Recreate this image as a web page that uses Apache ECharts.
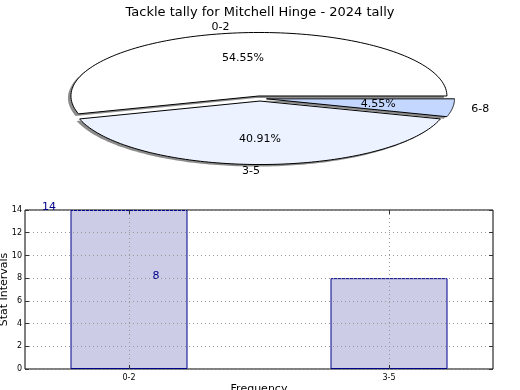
<!DOCTYPE html>
<html><head><meta charset="utf-8">
<script src="https://cdn.jsdelivr.net/npm/echarts@6/dist/echarts.min.js"></script>
<style>html,body{margin:0;padding:0;background:#fff}#c{width:520px;height:390px}</style>
</head><body><div id="c"></div>
<script>
const titleText = 'Tackle tally for Mitchell Hinge - 2024 tally';
const pieLabels = ['0-2', '3-5', '6-8'];
const pieValues = [12, 9, 1];
const barCats = ['0-2', '3-5'];
const barValues = [14, 8];
const yTicks = [0, 2, 4, 6, 8, 10, 12, 14];

const pieColors = ['#ffffff', '#ecf2ff', '#c4d7ff'];
const explode = [0.04, 0.04, 0.035];
const CX = 260, CY = 98.5, RX = 188, RY = 63.5;
const total = pieValues.reduce((a, b) => a + b, 0);
const FONT = '11px "DejaVu Sans"';

function sliceGeom(i) {
  let before = 0;
  for (let k = 0; k < i; k++) before += pieValues[k];
  const a0 = before / total * 2 * Math.PI;
  const a1 = (before + pieValues[i]) / total * 2 * Math.PI;
  const mid = (a0 + a1) / 2;
  const dx = explode[i] * RX * Math.cos(mid);
  const dy = -explode[i] * RY * Math.sin(mid);
  return {a0, a1, mid, cx: CX + dx, cy: CY + dy};
}
function slicePoints(g, ox, oy) {
  const pts = [[g.cx + ox, g.cy + oy]];
  const n = 120;
  for (let s = 0; s <= n; s++) {
    const t = g.a0 + (g.a1 - g.a0) * s / n;
    pts.push([g.cx + ox + RX * Math.cos(t), g.cy + oy - RY * Math.sin(t)]);
  }
  return pts;
}

const chart = echarts.init(document.getElementById('c'), null, {renderer: 'canvas'});
chart.setOption({
  animation: false,
  title: {text: titleText, left: 'center', top: 1,
    textStyle: {fontFamily: 'DejaVu Sans', fontSize: 13, fontWeight: 'normal', color: '#000'}},
  grid: [{left: 25, right: 27, top: 210, bottom: 21, containLabel: false, outerBoundsMode: 'none',
    show: true, borderColor: '#000', borderWidth: 1, backgroundColor: 'transparent'}],
  xAxis: [
    {type: 'value', min: -0.4, max: 1.4, gridIndex: 0, position: 'bottom', z: 5,
      axisLine: {show: false, onZero: false},
      axisTick: {show: true, inside: true, length: 4, customValues: [0, 1], lineStyle: {color: '#333'}},
      axisLabel: {customValues: [0, 1], formatter: v => barCats[Math.round(v)] || '', fontSize: 8, fontFamily: 'DejaVu Sans', color: '#000', margin: 5},
      splitLine: {show: true, lineStyle: {type: [1, 3], color: '#999999', width: 1}},
      name: 'Frequency', nameLocation: 'middle', nameGap: 15, nameMoveOverlap: false,
      nameTextStyle: {fontSize: 11, fontFamily: 'DejaVu Sans', color: '#000'}},
    {type: 'value', min: -0.4, max: 1.4, gridIndex: 0, position: 'top', z: 5,
      axisLine: {show: false, onZero: false},
      axisTick: {show: true, inside: true, length: 4, customValues: [0, 1], lineStyle: {color: '#333'}},
      axisLabel: {show: false}, splitLine: {show: false}}
  ],
  yAxis: [
    {type: 'value', min: 0, max: 14, interval: 2, gridIndex: 0, position: 'left', z: 5,
      axisLine: {show: false, onZero: false},
      axisTick: {show: true, inside: true, length: 4, lineStyle: {color: '#333'}},
      axisLabel: {fontSize: 8, fontFamily: 'DejaVu Sans', color: '#000', margin: 3,
        formatter: v => yTicks.includes(v) ? String(v) : ''},
      splitLine: {show: true, lineStyle: {type: [1, 3], color: '#999999', width: 1}},
      name: 'Stat Intervals', nameLocation: 'middle', nameGap: 15, nameMoveOverlap: false,
      nameTextStyle: {fontSize: 11, fontFamily: 'DejaVu Sans', color: '#000'}},
    {type: 'value', min: 0, max: 14, interval: 2, gridIndex: 0, position: 'right', z: 5,
      axisLine: {show: false, onZero: false},
      axisTick: {show: true, inside: true, length: 4, lineStyle: {color: '#333'}},
      axisLabel: {show: false}, splitLine: {show: false}}
  ],
  series: [
    {type: 'bar', xAxisIndex: 0, yAxisIndex: 0, barWidth: 117,
      itemStyle: {color: '#ccccE6', borderColor: '#00008b', borderWidth: 1},
      data: barValues.map((v, i) => ({
        value: [i, v],
        label: {show: true, position: 'top', offset: i === 0 ? [-80, 8] : [-233, 8],
          formatter: String(v), color: '#00008b', fontSize: 11, fontFamily: 'DejaVu Sans'}
      })),
      z: 2},
    {type: 'custom', coordinateSystem: 'none', z: 1, silent: true,
      data: pieValues.map((v, i) => [v, i]),
      renderItem: function (params, api) {
        const g = sliceGeom(params.dataIndex);
        return {type: 'polygon', shape: {points: slicePoints(g, -3, 2)},
          style: {fill: 'rgba(0,0,0,0.45)', stroke: null}};
      }},
    {type: 'custom', coordinateSystem: 'none', z: 3, silent: true,
      data: pieValues.map((v, i) => [v, i]),
      renderItem: function (params, api) {
        const i = params.dataIndex;
        const g = sliceGeom(i);
        const c = Math.cos(g.mid), s = Math.sin(g.mid);
        const lx = g.cx + 1.1 * RX * c, ly = g.cy - 1.1 * RY * s;
        const px = g.cx + 0.6 * RX * c, py = g.cy - 0.6 * RY * s;
        const pct = (api.value(0) / total * 100).toFixed(2) + '%';
        return {type: 'group', children: [
          {type: 'polygon', shape: {points: slicePoints(g, 0, 0)},
            style: {fill: pieColors[i], stroke: '#000', lineWidth: 1}},
          {type: 'text', style: {text: pieLabels[i], x: lx, y: ly, font: FONT, fill: '#000',
            align: c > 0 ? 'left' : 'right', verticalAlign: 'middle'}},
          {type: 'text', style: {text: pct, x: px, y: py, font: FONT, fill: '#000',
            align: 'center', verticalAlign: 'middle'}}
        ]};
      }}
  ]
});
</script></body></html>
